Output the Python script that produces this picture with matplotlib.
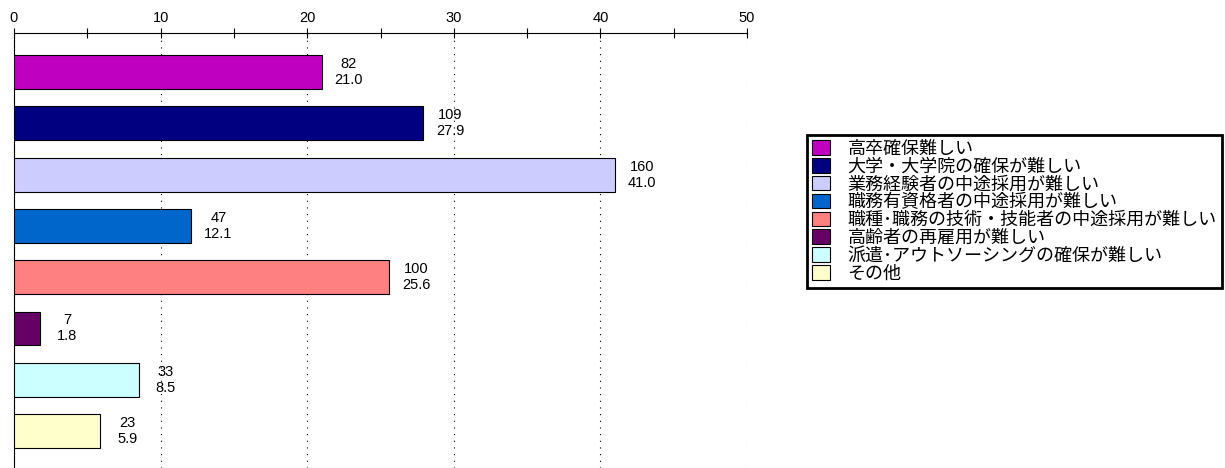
import matplotlib.pyplot as plt
from matplotlib.patches import Patch

plt.rcParams['font.family'] = ['Liberation Sans', 'Noto Sans CJK JP']

# データ
labels = ['高卒確保難しい', '大学・大学院の確保が難しい', '業務経験者の中途採用が難しい',
          '職務有資格者の中途採用が難しい', '職種･職務の技術・技能者の中途採用が難しい',
          '高齢者の再雇用が難しい', '派遣･アウトソーシングの確保が難しい', 'その他']
counts = [82, 109, 160, 47, 100, 7, 33, 23]
percents = [21.0, 27.9, 41.0, 12.1, 25.6, 1.8, 8.5, 5.9]
colors = ['#C000C0', '#000080', '#CCCCFF', '#0066CC', '#FF8080', '#660066', '#CCFFFF', '#FFFFCC']

fig = plt.figure(figsize=(12.25, 4.68), dpi=100)
ax = fig.add_axes([14 / 1225, 0, (747 - 14) / 1225, (468 - 33) / 468])

ypos = list(range(len(labels)))
ax.barh(ypos, percents, height=0.66, color=colors, edgecolor='black', linewidth=0.8, zorder=3)

# 値ラベル（件数と割合）
for y, c, p in zip(ypos, counts, percents):
    x = p + 27 / 14.66
    ax.text(x, y - 0.02, str(c), ha='center', va='bottom', fontsize=10.5, zorder=4)
    ax.text(x, y + 0.02, f'{p:.1f}', ha='center', va='top', fontsize=10.5, zorder=4)

# 軸の設定
ax.set_xlim(0, 50)
ax.set_ylim(7.72, -0.76)
ax.xaxis.tick_top()
ax.set_xticks([0, 10, 20, 30, 40, 50])
ax.set_xticks([5, 15, 25, 35, 45], minor=True)
ax.tick_params(axis='x', which='both', direction='inout', length=7, width=0.8, labelsize=10.5, pad=2)
ax.set_yticks([])
ax.grid(axis='x', which='major', linestyle=(0, (1, 5)), color='black', linewidth=0.8, zorder=0)
for s in ['right', 'bottom']:
    ax.spines[s].set_visible(False)
ax.spines['top'].set_linewidth(0.8)
ax.spines['left'].set_linewidth(0.8)

# 凡例
handles = [Patch(facecolor=c, edgecolor='black', linewidth=0.8) for c in colors]
leg = fig.legend(handles, labels, loc='upper left', bbox_to_anchor=(807 / 1225, 1 - 135 / 468),
                 fontsize=13, frameon=True, fancybox=False, framealpha=1,
                 handlelength=1.0, handleheight=0.85,
                 handletextpad=0.95, labelspacing=0.02, borderpad=0.3, borderaxespad=0)
leg.get_frame().set_edgecolor('black')
leg.get_frame().set_linewidth(2)

fig.savefig('out.png', dpi=100)
